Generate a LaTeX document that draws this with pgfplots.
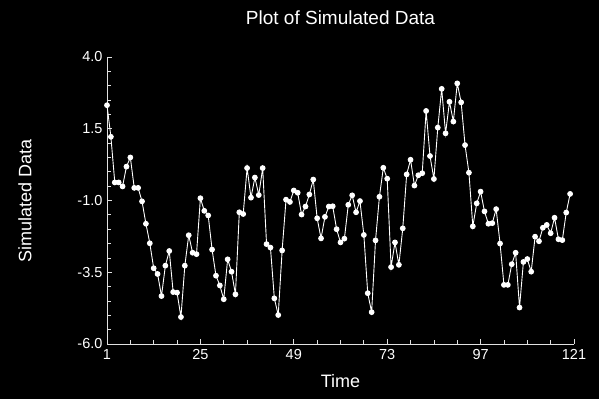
\documentclass[border=0pt]{standalone}
\usepackage{pgfplots}
\pgfplotsset{compat=1.18}
\usepackage{fontspec}
\setmainfont{Liberation Sans}
\definecolor{axgray}{RGB}{225,225,225}
\begin{document}
\begin{tikzpicture}
\fill[black] (0pt,0pt) rectangle (599pt,399pt);
\useasboundingbox (0pt,0pt) rectangle (599pt,399pt);
\begin{axis}[
  at={(107pt,55pt)}, anchor=south west,
  scale only axis, width=467pt, height=287pt,
  xmin=1, xmax=121, ymin=-6, ymax=4,
  axis x line=bottom, axis y line=left,
  axis line style={-, axgray, line width=0.9pt},
  xtick={1,25,49,73,97,121}, minor x tick num=3,
  ytick={-6,-3.5,-1,1.5,4}, minor y tick num=4,
  tick align=inside,
  major tick length=5pt, minor tick length=4pt,
  tick style={axgray, line width=0.8pt},
  /pgf/number format/assume math mode=true,
  ticklabel style={font=\fontsize{14.5}{16}\selectfont, text=white},
  xticklabel style={yshift=-2pt},
  yticklabel style={xshift=-1pt, /pgf/number format/.cd, fixed, fixed zerofill, precision=1},
  title={Plot of Simulated Data},
  title style={at={(axis description cs:0.5,1.0906)}, anchor=base,
    font=\fontsize{19}{21}\selectfont, text=white},
  xlabel={Time},
  xlabel style={at={(axis description cs:0.5,-0.129)}, anchor=center,
    font=\fontsize{18}{20}\selectfont, text=white},
  ylabel={Simulated Data},
  ylabel style={at={(axis description cs:-0.1756,0.5)}, anchor=center,
    font=\fontsize{18}{20}\selectfont, text=white},
  clip=false,
]
\addplot[white, line width=0.9pt, mark=*, mark size=2.4pt, mark options={fill=white, draw=white}] coordinates {
(1,2.32) (2,1.22) (3,-0.37) (4,-0.37) (5,-0.51) (6,0.18) (7,0.50) (8,-0.56) (9,-0.56) (10,-1.03)
(11,-1.81) (12,-2.49) (13,-3.36) (14,-3.56) (15,-4.33) (16,-3.27) (17,-2.76) (18,-4.19) (19,-4.21) (20,-5.06)
(21,-3.27) (22,-2.21) (23,-2.82) (24,-2.87) (25,-0.92) (26,-1.36) (27,-1.52) (28,-2.71) (29,-3.62) (30,-3.96)
(31,-4.44) (32,-3.05) (33,-3.48) (34,-4.27) (35,-1.41) (36,-1.47) (37,0.13) (38,-0.90) (39,-0.20) (40,-0.81)
(41,0.13) (42,-2.52) (43,-2.64) (44,-4.41) (45,-4.99) (46,-2.74) (47,-0.97) (48,-1.05) (49,-0.65) (50,-0.73)
(51,-1.49) (52,-1.21) (53,-0.79) (54,-0.27) (55,-1.62) (56,-2.32) (57,-1.57) (58,-1.21) (59,-1.20) (60,-2.00)
(61,-2.46) (62,-2.33) (63,-1.15) (64,-0.82) (65,-1.41) (66,-1.02) (67,-2.20) (68,-4.23) (69,-4.89) (70,-2.39)
(71,-0.87) (72,0.14) (73,-0.24) (74,-3.32) (75,-2.46) (76,-3.24) (77,-1.97) (78,-0.09) (79,0.42) (80,-0.48)
(81,-0.12) (82,-0.05) (83,2.12) (84,0.55) (85,-0.25) (86,1.54) (87,2.89) (88,1.34) (89,2.44) (90,1.75)
(91,3.08) (92,2.42) (93,0.93) (94,-0.03) (95,-1.90) (96,-1.10) (97,-0.69) (98,-1.38) (99,-1.81) (100,-1.79)
(101,-1.30) (102,-2.50) (103,-3.94) (104,-3.94) (105,-3.22) (106,-2.82) (107,-4.73) (108,-3.14) (109,-3.04) (110,-3.48)
(111,-2.26) (112,-2.42) (113,-1.95) (114,-1.85) (115,-2.14) (116,-1.60) (117,-2.35) (118,-2.38) (119,-1.42) (120,-0.77)
};
\end{axis}
\end{tikzpicture}
\end{document}
